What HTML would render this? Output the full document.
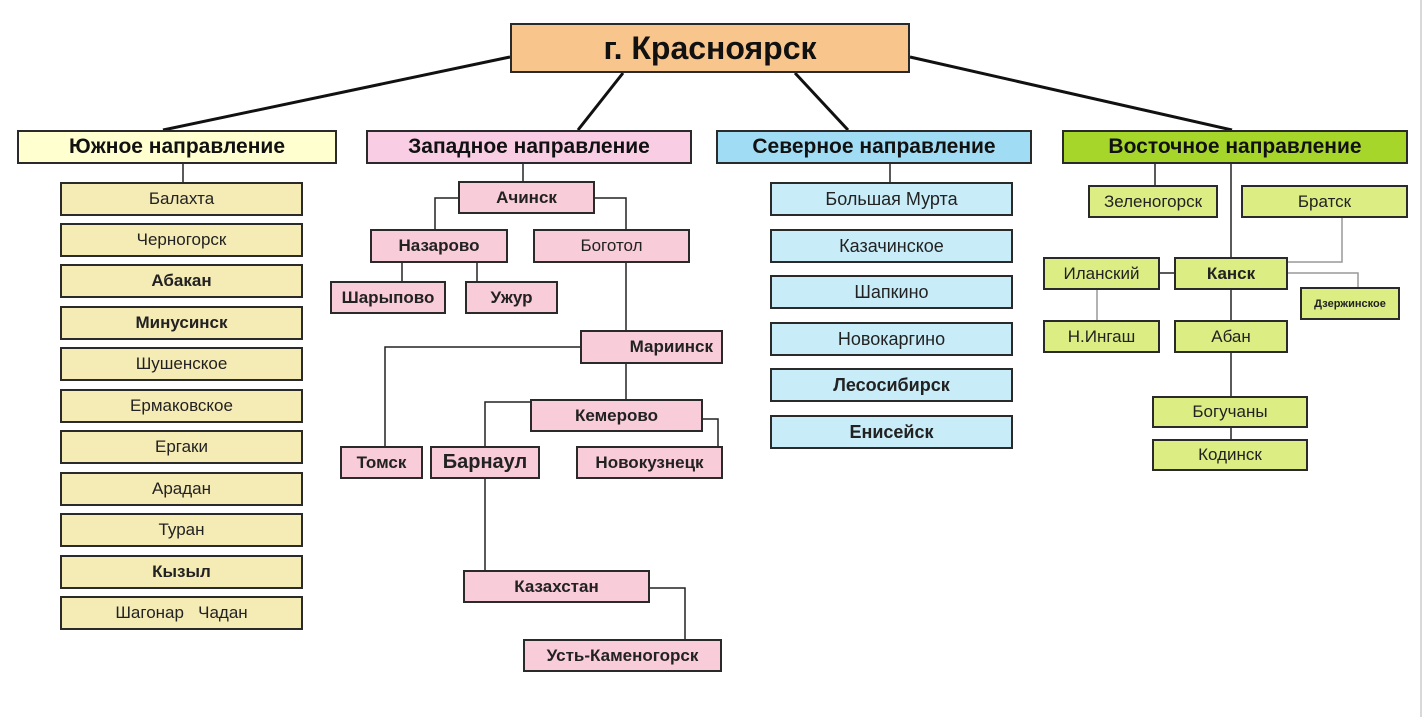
<!DOCTYPE html>
<html><head><meta charset="utf-8"><style>
body{margin:0;width:1425px;height:717px;background:#fff;position:relative;overflow:hidden;font-family:"Liberation Sans","DejaVu Sans",sans-serif}
.b{position:absolute;box-sizing:border-box;border:2px solid #2a2a2a;display:flex;align-items:center;justify-content:center;font-size:17px;color:#222;white-space:nowrap}
.h{font-weight:bold;font-size:21px;color:#111}
.bd{font-weight:bold}
.s{background:#f5ebb5}.w{background:#f8ccd8}.n{background:#c8ecf8}.e{background:#dced84}
svg{position:absolute;left:0;top:0}
</style></head><body>
<svg width="1425" height="717">
<g stroke="#111" stroke-width="3">
<line x1="510" y1="57" x2="163" y2="130"/><line x1="623" y1="73" x2="578" y2="130"/>
<line x1="795" y1="73" x2="848" y2="130"/><line x1="910" y1="57" x2="1232" y2="130"/>
</g>
<g stroke="#222" stroke-width="1.5" fill="none">
<line x1="183" y1="163" x2="183" y2="182"/>
<line x1="523" y1="163" x2="523" y2="181"/>
<polyline points="458,198 435,198 435,229"/><polyline points="595,198 626,198 626,229"/>
<line x1="402" y1="263" x2="402" y2="281"/><line x1="477" y1="263" x2="477" y2="281"/>
<line x1="626" y1="263" x2="626" y2="330"/>
<polyline points="580,347 385,347 385,446"/>
<line x1="626" y1="364" x2="626" y2="399"/>
<polyline points="530,402 485,402 485,446"/><polyline points="703,419 718,419 718,446"/>
<line x1="485" y1="479" x2="485" y2="570"/>
<polyline points="650,588 685,588 685,639"/>
<line x1="890" y1="163" x2="890" y2="182"/>
<line x1="1155" y1="163" x2="1155" y2="185"/>
<line x1="1231" y1="163" x2="1231" y2="257"/>
<line x1="1160" y1="273" x2="1174" y2="273"/>
<line x1="1231" y1="290" x2="1231" y2="320"/>
<line x1="1231" y1="353" x2="1231" y2="396"/>
<line x1="1231" y1="428" x2="1231" y2="439"/>
</g>
<g stroke="#999" stroke-width="1.5" fill="none">
<polyline points="1342,218 1342,262 1288,262"/>
<polyline points="1288,273 1358,273 1358,287"/>
<line x1="1097" y1="290" x2="1097" y2="320"/>
<line x1="1421" y1="0" x2="1421" y2="717" stroke="#ccc"/>
</g>
</svg>
<div class="b" style="left:510px;top:23px;width:400px;height:50px;background:#f8c58c;font-size:32px;font-weight:bold;color:#111">г. Красноярск</div>
<div class="b h" style="left:17px;top:130px;width:320px;height:34px;background:#ffffd0">Южное направление</div>
<div class="b h" style="left:366px;top:130px;width:326px;height:34px;background:#f9cde4">Западное направление</div>
<div class="b h" style="left:716px;top:130px;width:316px;height:34px;background:#a0dcf4">Северное направление</div>
<div class="b h" style="left:1062px;top:130px;width:346px;height:34px;background:#a6d62a">Восточное направление</div>

<div class="b s" style="left:60px;top:182px;width:243px;height:34px">Балахта</div>
<div class="b s" style="left:60px;top:223px;width:243px;height:34px">Черногорск</div>
<div class="b s bd" style="left:60px;top:264px;width:243px;height:34px">Абакан</div>
<div class="b s bd" style="left:60px;top:306px;width:243px;height:34px">Минусинск</div>
<div class="b s" style="left:60px;top:347px;width:243px;height:34px">Шушенское</div>
<div class="b s" style="left:60px;top:389px;width:243px;height:34px">Ермаковское</div>
<div class="b s" style="left:60px;top:430px;width:243px;height:34px">Ергаки</div>
<div class="b s" style="left:60px;top:472px;width:243px;height:34px">Арадан</div>
<div class="b s" style="left:60px;top:513px;width:243px;height:34px">Туран</div>
<div class="b s bd" style="left:60px;top:555px;width:243px;height:34px">Кызыл</div>
<div class="b s" style="left:60px;top:596px;width:243px;height:34px">Шагонар&nbsp;&nbsp;&nbsp;Чадан</div>

<div class="b w bd" style="left:458px;top:181px;width:137px;height:33px">Ачинск</div>
<div class="b w bd" style="left:370px;top:229px;width:138px;height:34px">Назарово</div>
<div class="b w" style="left:533px;top:229px;width:157px;height:34px">Боготол</div>
<div class="b w bd" style="left:330px;top:281px;width:116px;height:33px">Шарыпово</div>
<div class="b w bd" style="left:465px;top:281px;width:93px;height:33px">Ужур</div>
<div class="b w bd" style="left:580px;top:330px;width:143px;height:34px;justify-content:flex-end;padding-right:8px">Мариинск</div>
<div class="b w bd" style="left:530px;top:399px;width:173px;height:33px">Кемерово</div>
<div class="b w bd" style="left:340px;top:446px;width:83px;height:33px">Томск</div>
<div class="b w bd" style="left:430px;top:446px;width:110px;height:33px;font-size:20px">Барнаул</div>
<div class="b w bd" style="left:576px;top:446px;width:147px;height:33px">Новокузнецк</div>
<div class="b w bd" style="left:463px;top:570px;width:187px;height:33px">Казахстан</div>
<div class="b w bd" style="left:523px;top:639px;width:199px;height:33px">Усть-Каменогорск</div>

<div class="b n" style="left:770px;top:182px;width:243px;height:34px;font-size:18px">Большая Мурта</div>
<div class="b n" style="left:770px;top:229px;width:243px;height:34px;font-size:18px">Казачинское</div>
<div class="b n" style="left:770px;top:275px;width:243px;height:34px;font-size:18px">Шапкино</div>
<div class="b n" style="left:770px;top:322px;width:243px;height:34px;font-size:18px">Новокаргино</div>
<div class="b n bd" style="left:770px;top:368px;width:243px;height:34px;font-size:18px">Лесосибирск</div>
<div class="b n bd" style="left:770px;top:415px;width:243px;height:34px;font-size:18px">Енисейск</div>

<div class="b e" style="left:1088px;top:185px;width:130px;height:33px">Зеленогорск</div>
<div class="b e" style="left:1241px;top:185px;width:167px;height:33px">Братск</div>
<div class="b e" style="left:1043px;top:257px;width:117px;height:33px">Иланский</div>
<div class="b e bd" style="left:1174px;top:257px;width:114px;height:33px">Канск</div>
<div class="b e bd" style="left:1300px;top:287px;width:100px;height:33px;font-size:11px">Дзержинское</div>
<div class="b e" style="left:1043px;top:320px;width:117px;height:33px">Н.Ингаш</div>
<div class="b e" style="left:1174px;top:320px;width:114px;height:33px">Абан</div>
<div class="b e" style="left:1152px;top:396px;width:156px;height:32px">Богучаны</div>
<div class="b e" style="left:1152px;top:439px;width:156px;height:32px">Кодинск</div>
</body></html>
